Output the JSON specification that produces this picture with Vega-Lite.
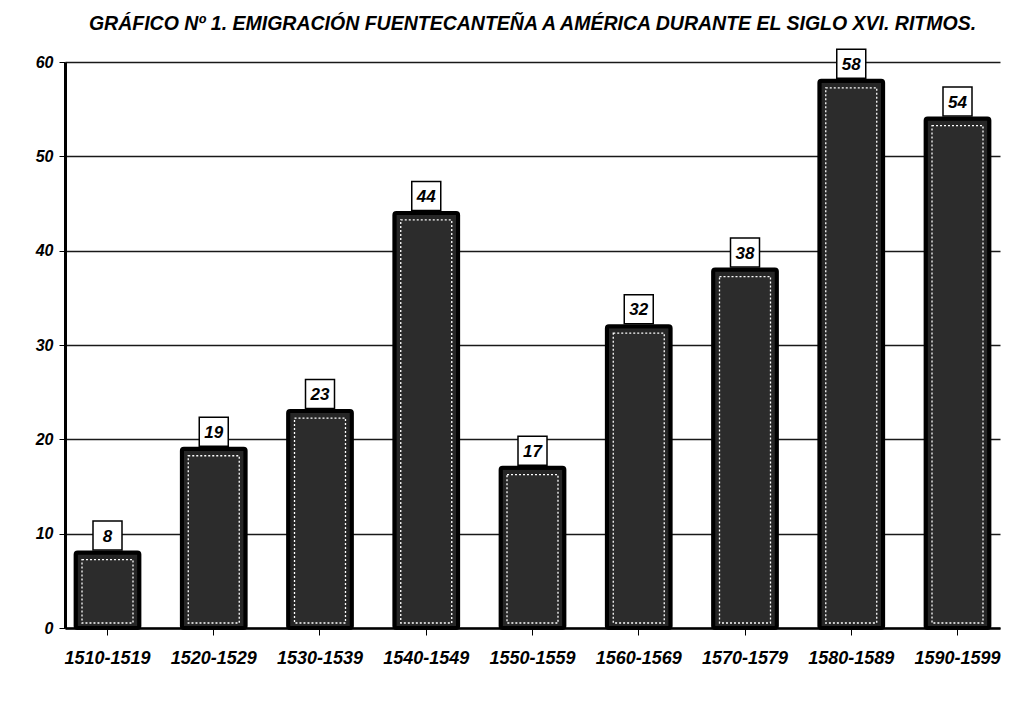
{
  "$schema": "https://vega.github.io/schema/vega-lite/v6.json",
  "width": 935,
  "height": 566,
  "autosize": {"type": "none"},
  "padding": {"left": 65, "top": 62, "right": 12, "bottom": 100},
  "background": "white",
  "title": {
    "text": "GRÁFICO Nº 1. EMIGRACIÓN FUENTECANTEÑA A AMÉRICA DURANTE EL SIGLO XVI. RITMOS.",
    "font": "Liberation Sans, Arial",
    "fontSize": 19.5,
    "fontWeight": "bold",
    "fontStyle": "italic",
    "color": "black",
    "anchor": "middle",
    "offset": 12,
    "dx": 0
  },
  "data": {
    "values": [
      {"periodo": "1510-1519", "emigrantes": 8},
      {"periodo": "1520-1529", "emigrantes": 19},
      {"periodo": "1530-1539", "emigrantes": 23},
      {"periodo": "1540-1549", "emigrantes": 44},
      {"periodo": "1550-1559", "emigrantes": 17},
      {"periodo": "1560-1569", "emigrantes": 32},
      {"periodo": "1570-1579", "emigrantes": 38},
      {"periodo": "1580-1589", "emigrantes": 58},
      {"periodo": "1590-1599", "emigrantes": 54}
    ]
  },
  "encoding": {
    "x": {
      "field": "periodo",
      "type": "nominal",
      "sort": null,
      "scale": {"paddingInner": 0.4, "paddingOuter": 0.1},
      "axis": {
        "title": null,
        "labelAngle": 0,
        "labelFont": "Liberation Sans, Arial",
        "labelFontSize": 18,
        "labelFontWeight": "bold",
        "labelFontStyle": "italic",
        "labelColor": "black",
        "labelPadding": 14,
        "domainColor": "black",
        "domainWidth": 2.5,
        "tickColor": "black",
        "tickSize": 7,
        "grid": false
      }
    },
    "y": {
      "field": "emigrantes",
      "type": "quantitative",
      "scale": {"domain": [0, 60], "nice": false},
      "axis": {
        "title": null,
        "values": [0, 10, 20, 30, 40, 50, 60],
        "labelFont": "Liberation Sans, Arial",
        "labelFontSize": 16,
        "labelFontWeight": "bold",
        "labelFontStyle": "italic",
        "labelColor": "black",
        "labelPadding": 6,
        "domainColor": "black",
        "domainWidth": 3,
        "tickColor": "black",
        "tickSize": 6,
        "grid": true,
        "gridColor": "black",
        "gridWidth": 1.3,
        "gridOpacity": 0.9
      }
    }
  },
  "layer": [
    {
      "mark": {"type": "bar", "width": {"band": 1}, "fill": "#262626", "stroke": "black", "strokeWidth": 4, "cornerRadius": 2}
    },
    {
      "mark": {"type": "bar", "width": {"band": 0.8}, "fill": "#2c2c2c", "stroke": "white", "strokeWidth": 1.3, "strokeDash": [2, 2], "yOffset": 7, "y2Offset": -5},
      "encoding": {"y2": {"datum": 0}}
    },
    {
      "mark": {"type": "point", "shape": "square", "size": 841, "filled": true, "fill": "white", "stroke": "black", "strokeWidth": 1.5, "opacity": 1, "yOffset": -17}
    },
    {
      "mark": {"type": "text", "font": "Liberation Sans, Arial", "fontSize": 17, "fontWeight": "bold", "fontStyle": "italic", "color": "black", "yOffset": -16, "baseline": "middle"},
      "encoding": {"text": {"field": "emigrantes", "type": "quantitative"}}
    }
  ],
  "config": {
    "view": {"stroke": null}
  }
}
